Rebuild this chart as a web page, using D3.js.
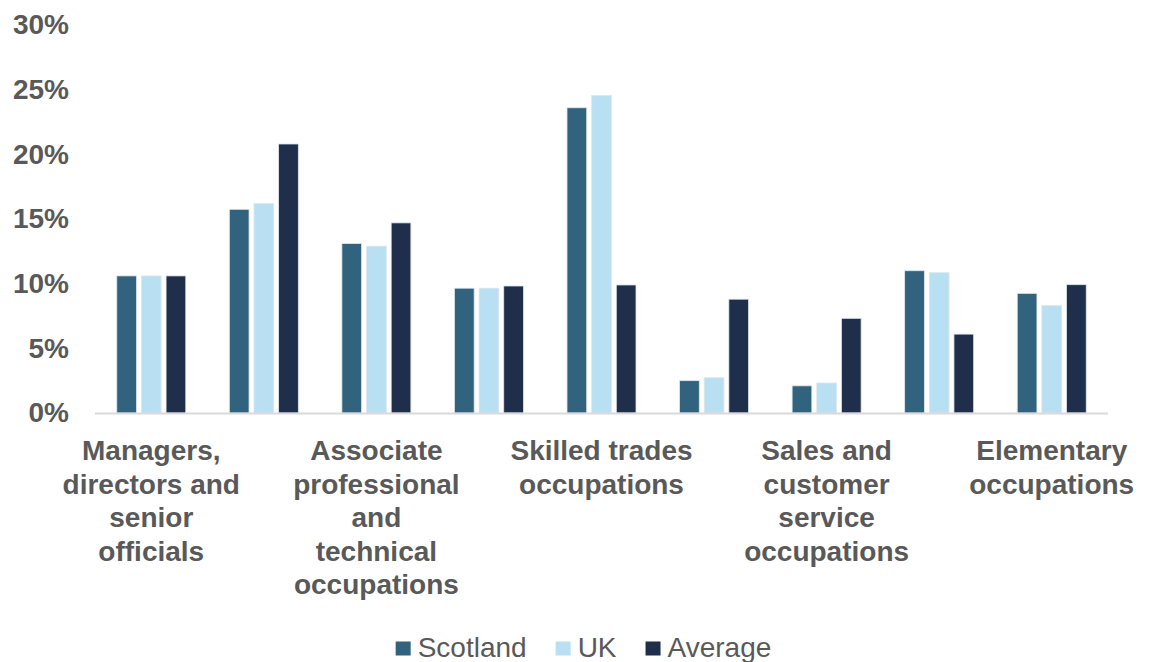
<!DOCTYPE html>
<html>
<head>
<meta charset="utf-8">
<script src="https://cdn.jsdelivr.net/npm/d3@7"></script>
<style>
  html, body { margin: 0; padding: 0; background: #ffffff; }
  svg { display: block; font-family: "Liberation Sans", Arial, sans-serif; }
</style>
</head>
<body>
<svg id="chart" width="1150" height="662"></svg>
<script>
// Occupation groups (SOC major groups)
const categories = [
  "Managers, directors and senior officials",
  "Professional occupations",
  "Associate professional and technical occupations",
  "Administrative and secretarial occupations",
  "Skilled trades occupations",
  "Caring, leisure and other service occupations",
  "Sales and customer service occupations",
  "Process, plant and machine operatives",
  "Elementary occupations"
];

// Wrapped axis label lines; only every other category label is printed
const categoryLines = [
  ["Managers,", "directors and", "senior", "officials"],
  ["Professional", "occupations"],
  ["Associate", "professional", "and", "technical", "occupations"],
  ["Administrative", "and secretarial", "occupations"],
  ["Skilled trades", "occupations"],
  ["Caring, leisure", "and other service", "occupations"],
  ["Sales and", "customer", "service", "occupations"],
  ["Process, plant", "and machine", "operatives"],
  ["Elementary", "occupations"]
];

const seriesNames = ["Scotland", "UK", "Average"];
const scotland = [10.6, 15.75, 13.1, 9.65, 23.6, 2.5, 2.1, 11.0, 9.25];
const uk       = [10.6, 16.2, 12.9, 9.65, 24.55, 2.73, 2.32, 10.85, 8.3];
const average  = [10.6, 20.8, 14.7, 9.82, 9.9, 8.8, 7.32, 6.1, 9.92];
const yTicks = [0, 5, 10, 15, 20, 25, 30];
const colors = ["#31637f", "#b9dff3", "#1f2f4b"];

const seriesValues = [scotland, uk, average];
const rows = categories.map((c, i) => ({
  category: c,
  values: seriesNames.map((s, j) => ({ series: s, value: seriesValues[j][i] }))
}));

const svg = d3.select("#chart");
const plotLeft = 95, plotRight = 1108, plotTop = 25, plotBottom = 413;
const textColor = "#595959";

const x0 = d3.scaleBand()
  .domain(categories)
  .range([plotLeft, plotRight])
  .paddingInner(0.387)
  .paddingOuter(0.1935);

const x1 = d3.scaleBand()
  .domain(seriesNames)
  .range([0, x0.bandwidth()])
  .paddingInner(0.2);

const y = d3.scaleLinear().domain([0, 30]).range([plotBottom, plotTop]);
const color = d3.scaleOrdinal().domain(seriesNames).range(colors);

// Y axis labels (no line, no ticks)
const yAxis = svg.append("g")
  .attr("transform", `translate(${plotLeft - 26},0)`)
  .call(d3.axisLeft(y).tickValues(yTicks).tickSize(0).tickPadding(0).tickFormat(d => d + "%"));
yAxis.select(".domain").remove();
yAxis.selectAll("text")
  .attr("fill", textColor)
  .attr("font-size", 28)
  .attr("font-weight", "bold")
  .attr("font-family", "'Liberation Sans', Arial, sans-serif");

// Bars
const groups = svg.append("g").selectAll("g")
  .data(rows)
  .join("g")
  .attr("transform", d => `translate(${x0(d.category)},0)`);

groups.selectAll("rect")
  .data(d => d.values)
  .join("rect")
  .attr("x", d => x1(d.series))
  .attr("y", d => y(d.value))
  .attr("width", x1.bandwidth())
  .attr("height", d => y(0) - y(d.value))
  .attr("fill", d => color(d.series))
  .attr("stroke", "#dfe6ec")
  .attr("stroke-width", 0.8);

// Category axis line
svg.append("line")
  .attr("x1", plotLeft).attr("x2", plotRight)
  .attr("y1", y(0) + 0.5).attr("y2", y(0) + 0.5)
  .attr("stroke", "#d9d9d9")
  .attr("stroke-width", 2);

// Category labels, every other one
const labels = svg.append("g")
  .attr("fill", textColor)
  .attr("font-size", 28)
  .attr("font-weight", "bold")
  .attr("text-anchor", "middle");

categories.forEach((c, i) => {
  if (i % 2 !== 0) return;
  const cx = x0(c) + x0.bandwidth() / 2;
  const t = labels.append("text").attr("x", cx).attr("y", 460);
  categoryLines[i].forEach((line, k) => {
    t.append("tspan").attr("x", cx).attr("y", 460 + k * 33.5).text(line);
  });
});

// Legend
const legend = svg.append("g");
const items = seriesNames.map((s, i) => {
  const g = legend.append("g");
  g.append("rect").attr("width", 15).attr("height", 14).attr("y", -15).attr("fill", colors[i]);
  const txt = g.append("text").attr("x", 22).attr("y", 0)
    .attr("font-size", 28).attr("fill", textColor).text(s);
  return { g, w: 22 + txt.node().getComputedTextLength() };
});
const gap = 29;
const total = d3.sum(items, d => d.w) + gap * (items.length - 1);
let lx = 583.5 - total / 2;
items.forEach(it => {
  it.g.attr("transform", `translate(${lx},656.5)`);
  lx += it.w + gap;
});
</script>
</body>
</html>
